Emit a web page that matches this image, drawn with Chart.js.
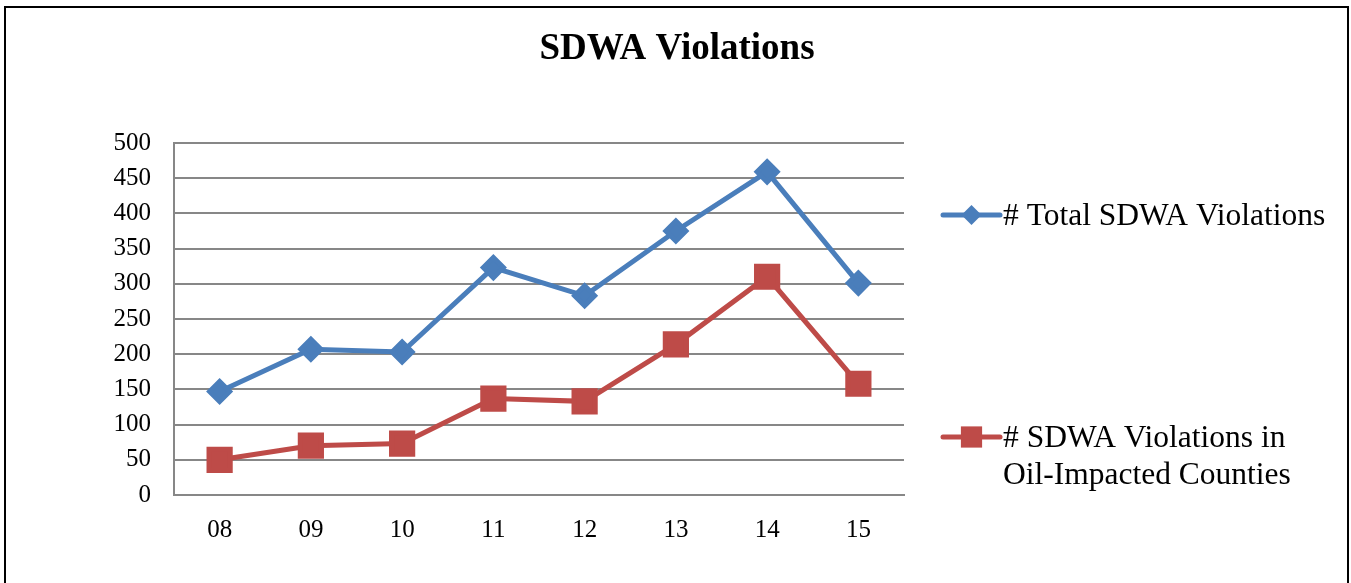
<!DOCTYPE html>
<html>
<head>
<meta charset="utf-8">
<script src="https://cdn.jsdelivr.net/npm/chart.js@4/dist/chart.umd.min.js"></script>
<style>
  html, body { margin: 0; padding: 0; background: #fff; }
  #wrap { position: relative; width: 1351px; height: 583px; overflow: hidden; }
  #frame { position: absolute; left: 4px; top: 6px; width: 1345px; height: 620px; border: 2px solid #000; box-sizing: border-box; }
  #chart { position: absolute; left: 0; top: 0; }
</style>
</head>
<body>
<div id="wrap">
  <div id="frame"></div>
  <canvas id="chart" width="1351" height="583"></canvas>
</div>
<script>
const years = ['08', '09', '10', '11', '12', '13', '14', '15'];
const totalViolations = [147, 207, 203, 323, 283, 375, 459, 301];
const oilCountyViolations = [50, 70, 73, 137, 133, 214, 310, 158];
const seriesNames = [
    ['# Total SDWA Violations'],
    ['# SDWA Violations in', 'Oil-Impacted Counties']
];
const chartTitle = 'SDWA Violations';

const serif = 'Liberation Serif';

// title centred on the whole frame, not just the plot
const frameTitle = {
    id: 'frameTitle',
    afterDraw(chart, args, opts) {
        const ctx = chart.ctx;
        ctx.save();
        ctx.font = 'bold ' + opts.fontSize + 'px "' + serif + '"';
        ctx.textAlign = 'center';
        ctx.textBaseline = 'middle';
        ctx.fillStyle = '#000';
        ctx.fillText(chartTitle, opts.x, opts.y);
        ctx.restore();
    }
};

// legend drawn by hand so the two entries sit where the original has them
const sideLegend = {
    id: 'sideLegend',
    afterDraw(chart, args, opts) {
        const ctx = chart.ctx;
        ctx.save();
        ctx.font = opts.fontSize + 'px "' + serif + '"';
        ctx.textBaseline = 'middle';
        chart.data.datasets.forEach((ds, i) => {
            const y = opts.rows[i];
            ctx.strokeStyle = ds.borderColor;
            ctx.lineWidth = ds.borderWidth;
            ctx.lineCap = 'round';
            ctx.beginPath();
            ctx.moveTo(opts.x, y);
            ctx.lineTo(opts.x + opts.lineLen, y);
            ctx.stroke();
            const cx = opts.x + opts.lineLen / 2;
            ctx.fillStyle = ds.backgroundColor;
            if (ds.pointStyle === 'rectRot') {
                const r = ds.pointRadius;
                ctx.beginPath();
                ctx.moveTo(cx, y - r);
                ctx.lineTo(cx + r, y);
                ctx.lineTo(cx, y + r);
                ctx.lineTo(cx - r, y);
                ctx.closePath();
                ctx.fill();
            } else {
                const s = ds.pointRadius * Math.SQRT1_2;
                ctx.fillRect(cx - s, y - s, 2 * s, 2 * s);
            }
            ctx.fillStyle = '#000';
            seriesNames[i].forEach((line, k) => {
                ctx.fillText(line, opts.x + opts.lineLen + 3, y + 2 + k * opts.lineGap);
            });
        });
        ctx.restore();
    }
};

const ctx = document.getElementById('chart').getContext('2d');

const chart = new Chart(ctx, {
    type: 'line',
    data: {
        labels: years,
        datasets: [{
            label: seriesNames[0].join(' '),
            data: totalViolations,
            borderColor: '#4A7EBB',
            backgroundColor: '#4A7EBB',
            borderWidth: 5,
            pointStyle: 'rectRot',
            pointRadius: 10,
            pointHoverRadius: 10,
            tension: 0
        }, {
            label: seriesNames[1].join(' '),
            data: oilCountyViolations,
            borderColor: '#BE4B48',
            backgroundColor: '#BE4B48',
            borderWidth: 5,
            pointStyle: 'rect',
            pointRadius: 15,
            pointHoverRadius: 15,
            tension: 0
        }]
    },
    options: {
        responsive: false,
        animation: false,
        events: [],
        layout: {
            padding: { left: 0, top: 143, right: 447, bottom: 0 }
        },
        scales: {
            x: {
                offset: true,
                grid: { display: false, drawTicks: false },
                border: { display: true, color: '#878787', width: 2 },
                ticks: {
                    color: '#000',
                    padding: 20,
                    font: { family: serif, size: 25 }
                },
                afterFit(scale) { scale.height = 88; }
            },
            y: {
                min: 0,
                max: 500,
                grid: { color: '#878787', lineWidth: 2, drawTicks: false },
                border: { display: true, color: '#878787', width: 2 },
                ticks: {
                    stepSize: 50,
                    color: '#000',
                    padding: 23,
                    font: { family: serif, size: 25 }
                },
                afterFit(scale) { scale.width = 174; }
            }
        },
        plugins: {
            legend: { display: false },
            tooltip: { enabled: false },
            title: { display: false },
            frameTitle: { x: 677, y: 49, fontSize: 37 },
            sideLegend: {
                x: 943,
                lineLen: 57,
                rows: [215, 437],
                fontSize: 31.5,
                lineGap: 37
            }
        }
    },
    plugins: [frameTitle, sideLegend]
});
</script>
</body>
</html>
